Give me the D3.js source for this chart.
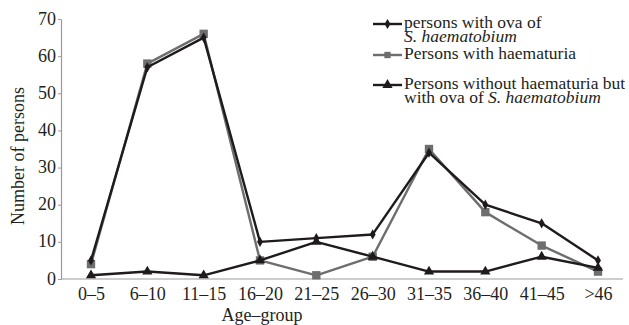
<!DOCTYPE html>
<html><head><meta charset="utf-8">
<script src="https://cdn.jsdelivr.net/npm/d3@7"></script>
<style>
body{margin:0;background:#fff;}
svg text{font-family:"Liberation Serif","Times New Roman",serif;fill:#231f20;}
</style></head>
<body><svg id="c" width="629" height="325"></svg>
<script>
const categories = ["0–5","6–10","11–15","16–20","21–25","26–30","31–35","36–40","41–45",">46"];
const ovaValues = [5,57,65,10,11,12,34,20,15,5];
const haematuriaValues = [4,58,66,5,1,6,35,18,9,2];
const withoutHaematuriaValues = [1,2,1,5,10,6,2,2,6,3];
const yTicks = [0,10,20,30,40,50,60,70];

const svg = d3.select("#c");
const x = d3.scalePoint().domain(categories).range([91,598]);
const y = d3.scaleLinear().domain([0,70]).range([279,19]);
const axisLeftX = 61, axisRight = 623;

// axes
const ya = svg.append("g").attr("transform",`translate(${axisLeftX},0)`)
  .call(d3.axisLeft(y).tickValues(yTicks).tickSize(3).tickSizeOuter(0).tickPadding(2));
ya.select(".domain").attr("stroke","#9a9a9a").attr("stroke-width",1.2);
ya.selectAll(".tick line").attr("stroke","#9a9a9a");
ya.selectAll(".tick text").attr("font-size",18).attr("font-family","Liberation Serif").attr("fill","#231f20").attr("dy","0.28em");

const xa = svg.append("g").attr("transform",`translate(0,${y(0)})`)
  .call(d3.axisBottom(x).tickSize(0).tickPadding(8));
xa.select(".domain").remove();
xa.selectAll(".tick text").attr("font-size",18).attr("font-family","Liberation Serif").attr("fill","#231f20");
svg.append("line").attr("x1",axisLeftX).attr("x2",axisRight).attr("y1",y(0)).attr("y2",y(0))
  .attr("stroke","#9a9a9a").attr("stroke-width",1.2);

// titles
svg.append("text").attr("x",262).attr("y",321).attr("text-anchor","middle").attr("font-size",18).text("Age–group");
svg.append("text").attr("transform","translate(24,156) rotate(-90)").attr("text-anchor","middle").attr("font-size",18).text("Number of persons");

const line = d3.line().x((d,i)=>x(categories[i])).y(d=>y(d));

function drawSeries(vals,color,shape){
  const g = svg.append("g");
  g.append("path").datum(vals).attr("d",line).attr("fill","none").attr("stroke",color).attr("stroke-width",2.4).attr("stroke-linejoin","round");
  g.selectAll("path.m").data(vals).join("path").attr("class","m")
    .attr("transform",(d,i)=>`translate(${x(categories[i])},${y(d)})`)
    .attr("d",shape).attr("fill",color);
}
const sq = d3.symbol(d3.symbolSquare,70)();
const dia = d3.symbol(d3.symbolDiamond,30)();
const tri = d3.symbol(d3.symbolTriangle,45)();

drawSeries(haematuriaValues,"#6e6e6e",sq);
drawSeries(ovaValues,"#1f1a1b",dia);
drawSeries(withoutHaematuriaValues,"#1f1a1b",tri);

// legend
const legend = [
  {color:"#1f1a1b",shape:dia,y:24,lines:[["persons with ova of"],[["S. haematobium",true]]]},
  {color:"#6e6e6e",shape:d3.symbol(d3.symbolSquare,40)(),y:55,lines:[["Persons with haematuria"]]},
  {color:"#1f1a1b",shape:tri,y:85,lines:[["Persons without haematuria but"],["with ova of ",["S. haematobium",true]]]}
];
legend.forEach(l=>{
  const g = svg.append("g");
  g.append("line").attr("x1",373).attr("x2",402).attr("y1",l.y).attr("y2",l.y).attr("stroke",l.color).attr("stroke-width",2.4);
  g.append("path").attr("transform",`translate(387.5,${l.y})`).attr("d",l.shape).attr("fill",l.color);
  l.lines.forEach((parts,k)=>{
    const t = g.append("text").attr("x",404).attr("y",l.y+4+k*14).attr("font-size",17.5);
    parts.forEach(p=>{
      if(Array.isArray(p)) t.append("tspan").attr("font-style","italic").text(p[0]);
      else t.append("tspan").text(p);
    });
  });
});
</script></body></html>
